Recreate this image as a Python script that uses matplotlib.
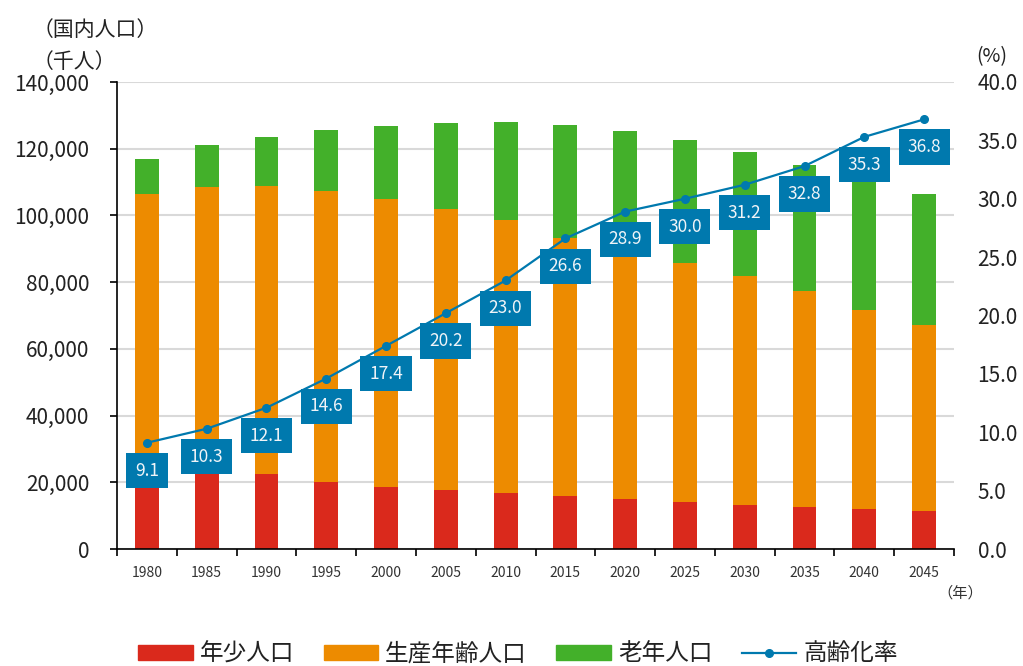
import matplotlib
matplotlib.use("Agg")
import matplotlib.pyplot as plt
from matplotlib.patches import Patch
from matplotlib.lines import Line2D
from matplotlib.ticker import FuncFormatter, FixedLocator
import numpy as np

plt.rcParams['font.family'] = ['Noto Sans CJK JP', 'DejaVu Sans']

years = ['1980', '1985', '1990', '1995', '2000', '2005', '2010', '2015',
         '2020', '2025', '2030', '2035', '2040', '2045']
young = [27524, 26042, 22544, 20033, 18505, 17585, 16839, 15945,
         15075, 14073, 13212, 12457, 11936, 11384]
working = [78884, 82535, 86140, 87260, 86380, 84422, 81735, 77282,
           74058, 71701, 68754, 64942, 59777, 55845]
elderly = [10653, 12472, 14928, 18277, 22041, 25761, 29484, 33868,
           36192, 36771, 37160, 37817, 39206, 39192]
ratio = [9.1, 10.3, 12.1, 14.6, 17.4, 20.2, 23.0, 26.6,
         28.9, 30.0, 31.2, 32.8, 35.3, 36.8]

c_red = '#DA291C'
c_orange = '#ED8B00'
c_green = '#43B02A'
c_blue = '#0079AE'

fig = plt.figure(figsize=(10.23, 6.66), dpi=100)
ax = fig.add_axes([117/1023, 1-549/666, (954-117)/1023, (549-82)/666])

x = np.arange(len(years))
w = 0.4
young_a = np.array(young)
work_a = np.array(working)
eld_a = np.array(elderly)
ax.bar(x, young_a, w, color=c_red, zorder=2)
ax.bar(x, work_a, w, bottom=young_a, color=c_orange, zorder=2)
ax.bar(x, eld_a, w, bottom=young_a + work_a, color=c_green, zorder=2)

ax.set_xlim(-0.5, len(years) - 0.5)
ax.set_ylim(0, 140000)
ax.set_yticks(np.arange(0, 140001, 20000))
ax.yaxis.set_major_formatter(FuncFormatter(lambda v, p: f"{int(v):,}"))
ax.yaxis.grid(True, color='#D9D9D9', lw=1.5, zorder=0)
ax.set_axisbelow(True)

ax.set_xticks(x)
ax.set_xticklabels(years)
ax.xaxis.set_minor_locator(FixedLocator(np.arange(-0.5, len(years), 1.0)))
ax.tick_params(axis='x', which='major', length=0, labelsize=10, pad=12,
               labelcolor='#333333')
ax.tick_params(axis='x', which='minor', length=5, width=1.2, direction='out')
ax.tick_params(axis='y', length=5, width=1.2, direction='out', pad=15,
               labelsize=15, labelcolor='#222222')
for s in ['top', 'right']:
    ax.spines[s].set_visible(False)
for s in ['left', 'bottom']:
    ax.spines[s].set_linewidth(1.2)
    ax.spines[s].set_color('black')

ax2 = ax.twinx()
ax2.set_ylim(0, 40)
ax2.set_yticks(np.arange(0, 40.1, 5))
ax2.yaxis.set_major_formatter(FuncFormatter(lambda v, p: f"{v:.1f}"))
ax2.tick_params(axis='y', length=0, pad=17, labelsize=15, labelcolor='#222222')
for s in ax2.spines.values():
    s.set_visible(False)

ax2.plot(x, ratio, color=c_blue, lw=1.6, marker='o', markersize=5.5, zorder=3)
for xi, r in zip(x, ratio):
    ax2.annotate(f"{r:.1f}", (xi, r), xytext=(0, -20), textcoords='offset points',
                 ha='center', va='center', fontsize=12.5, color='#F0F4F8',
                 bbox=dict(boxstyle='square,pad=0.5', fc=c_blue, ec='none'),
                 zorder=4)

fig.text(33/1023, 1-30/666, '（国内人口）', ha='left', va='center', fontsize=15,
         color='#222222')
fig.text(33/1023, 1-62/666, '（千人）', ha='left', va='center', fontsize=15,
         color='#222222')
fig.text(976/1023, 1-57/666, '(%)', ha='left', va='center', fontsize=14,
         color='#222222')
fig.text(960/1023, 1-593/666, '（年）', ha='center', va='center', fontsize=11,
         color='#333333')

handles = [Patch(color=c_red), Patch(color=c_orange), Patch(color=c_green),
           Line2D([], [], color=c_blue, lw=1.6, marker='o', markersize=5.5)]
labels = ['年少人口', '生産年齢人口', '老年人口', '高齢化率']
fig.legend(handles, labels, loc='center', bbox_to_anchor=(518/1023, 12/666),
           ncol=4, frameon=False, fontsize=17, handlelength=2.3,
           handleheight=0.6, handletextpad=0.3, columnspacing=1.25,
           labelcolor='#222222')

fig.savefig('out.png', dpi=100)
